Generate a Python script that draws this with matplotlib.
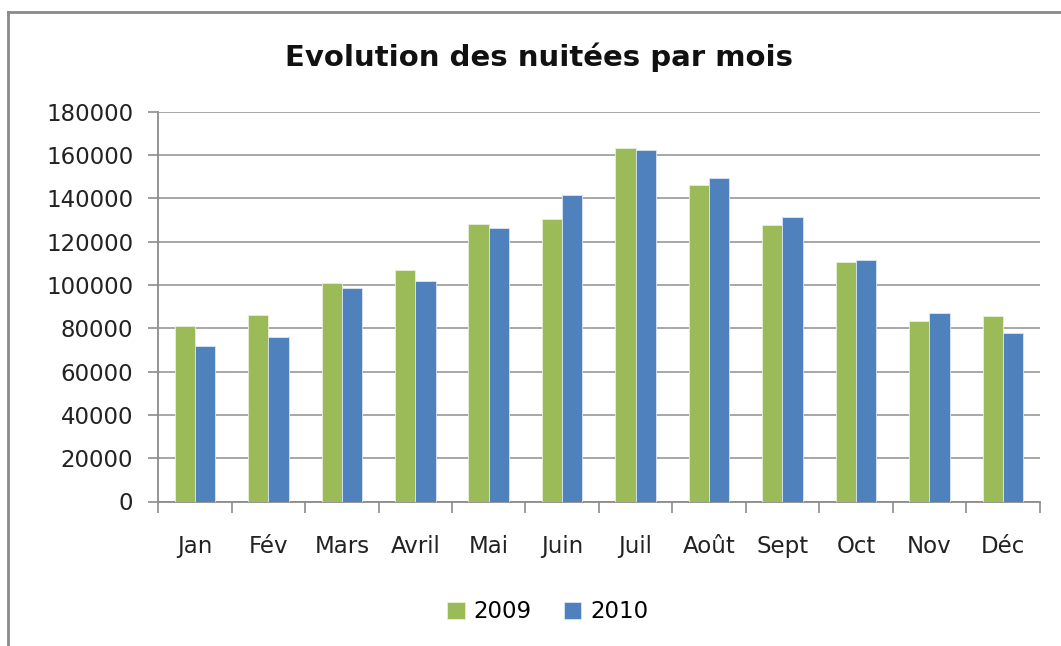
import numpy as np
import matplotlib
matplotlib.use("Agg")
import matplotlib.pyplot as plt
from matplotlib.lines import Line2D

plt.rcParams["font.family"] = ["DejaVu Sans"]

months = ["Jan", "Fév", "Mars", "Avril", "Mai", "Juin", "Juil", "Août", "Sept", "Oct", "Nov", "Déc"]
y2009 = [81000, 86000, 101000, 107000, 128000, 130300, 163500, 146300, 127900, 110700, 83300, 85700]
y2010 = [72000, 76000, 98800, 101700, 126100, 141600, 162400, 149300, 131500, 111700, 86900, 78000]
yticks = [0, 20000, 40000, 60000, 80000, 100000, 120000, 140000, 160000, 180000]

W, H = 1061, 646
fig = plt.figure(figsize=(W / 100, H / 100), dpi=100)
ax = fig.add_axes([158.3 / W, 1 - 501.5 / H, (1039.5 - 158.3) / W, (501.5 - 111.8) / H])

x = np.arange(len(months))
bw = 0.276
ax.bar(x - bw / 2, y2009, bw, color="#9BBB59", edgecolor="#e8f0dc", linewidth=0.6, label="2009", zorder=3)
ax.bar(x + bw / 2, y2010, bw, color="#4F81BD", edgecolor="#dce6f2", linewidth=0.6, label="2010", zorder=3)

ax.set_xlim(-0.5, len(months) - 0.5)
ax.set_ylim(0, 180000)
ax.set_yticks(yticks)
ax.set_yticklabels([str(v) for v in yticks], fontsize=16.5, color="#222222")
ax.set_xticks(x)
ax.set_xticklabels(months, fontsize=16.5, color="#222222")
ax.set_xticks(np.arange(len(months) + 1) - 0.5, minor=True)

ax.tick_params(axis="x", which="major", length=0, pad=24)
ax.tick_params(axis="x", which="minor", length=8, width=1.2, color="#8c8c8c")
ax.tick_params(axis="y", length=7, width=1.2, color="#8c8c8c", pad=11)

ax.grid(axis="y", color="#a0a0a0", linewidth=1.3, zorder=0)
ax.set_axisbelow(True)
for s in ["top", "right"]:
    ax.spines[s].set_visible(False)
for s in ["left", "bottom"]:
    ax.spines[s].set_color("#8c8c8c")
    ax.spines[s].set_linewidth(1.3)

fig.text(539 / W, 1 - 57 / H, "Evolution des nuitées par mois", ha="center", va="center",
         fontsize=21, fontweight="bold", color="#111111")

fig.legend(loc="center", bbox_to_anchor=(548 / W, 1 - 612 / H), ncol=2, frameon=False,
           fontsize=16.5, handlelength=0.75, handleheight=0.75, handletextpad=0.4, columnspacing=1.4)

# outer chart frame (left and top edges visible)
fig.add_artist(Line2D([8 / W, 8 / W], [0, 1 - 12 / H], transform=fig.transFigure, color="#8a8a8a", linewidth=2))
fig.add_artist(Line2D([8 / W, 1], [1 - 12 / H, 1 - 12 / H], transform=fig.transFigure, color="#8a8a8a", linewidth=2))

fig.savefig("out.png", dpi=100)
